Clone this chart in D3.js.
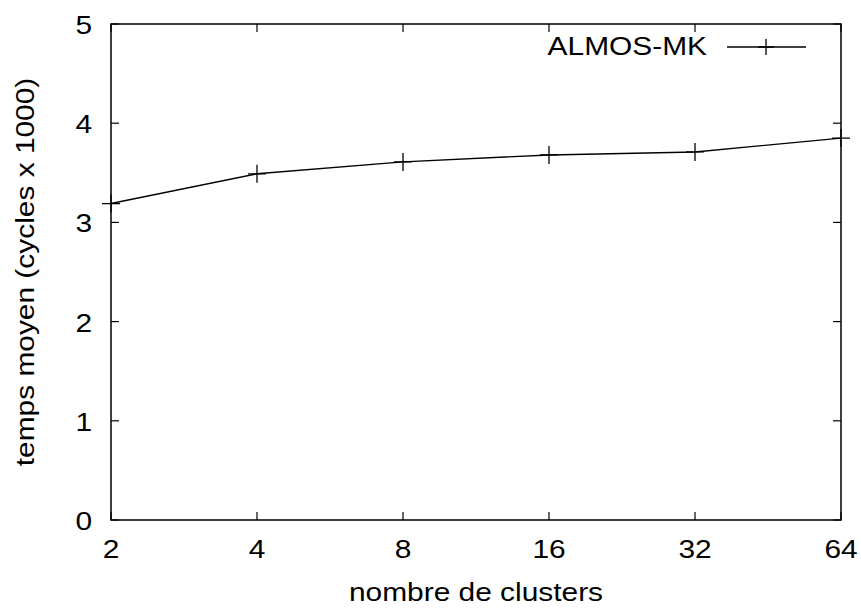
<!DOCTYPE html>
<html>
<head>
<meta charset="utf-8">
<script src="https://cdn.jsdelivr.net/npm/d3@7/dist/d3.min.js"></script>
<style>
  html, body { margin: 0; padding: 0; background: #fff; }
  svg text { font-family: "Liberation Sans", Arial, sans-serif; fill: #000; }
</style>
</head>
<body>
<svg id="chart" width="861" height="608"></svg>
<script>
// Number of clusters (log2 axis) and mean time in thousands of cycles
const clusters = [2, 4, 8, 16, 32, 64];
const almosMk = [3.19, 3.49, 3.61, 3.68, 3.71, 3.85];
const seriesName = "ALMOS-MK";
const yTicks = [0, 1, 2, 3, 4, 5];
const xLabel = "nombre de clusters";
const yLabel = "temps moyen (cycles x 1000)";

const W = 861, H = 608;
const m = { left: 111, right: 20, top: 24, bottom: 88 };
const fontSize = 26, stretch = 1.15;

const svg = d3.select("#chart");
svg.append("rect").attr("width", W).attr("height", H).attr("fill", "#fff");

const x = d3.scaleLog().base(2).domain([2, 64]).range([m.left, W - m.right]);
const y = d3.scaleLinear().domain([0, 5]).range([H - m.bottom, m.top]);

// wide text helper: horizontal stretch in the text's own frame
function label(g, txt, tx, ty, anchor, rot) {
  const t = g.append("g").attr("transform", `translate(${tx},${ty})` + (rot ? ` rotate(${rot})` : ""));
  t.append("text")
    .attr("transform", `scale(${stretch},1)`)
    .attr("text-anchor", anchor)
    .attr("font-size", fontSize)
    .text(txt);
  return t;
}

const tickLen = 8;
const x0 = x.range()[0], x1 = x.range()[1], y0 = y.range()[0], y1 = y.range()[1];

// ticks drawn inward, mirrored on opposite sides
const axes = svg.append("g").attr("stroke", "#000").attr("stroke-width", 1.2);
clusters.forEach(c => {
  axes.append("line").attr("x1", x(c)).attr("x2", x(c)).attr("y1", y0).attr("y2", y0 - tickLen);
  axes.append("line").attr("x1", x(c)).attr("x2", x(c)).attr("y1", y1).attr("y2", y1 + tickLen);
});
yTicks.forEach(v => {
  axes.append("line").attr("x1", x0).attr("x2", x0 + tickLen).attr("y1", y(v)).attr("y2", y(v));
  axes.append("line").attr("x1", x1).attr("x2", x1 - tickLen).attr("y1", y(v)).attr("y2", y(v));
});

// frame
svg.append("rect")
  .attr("x", x0).attr("y", y1).attr("width", x1 - x0).attr("height", y0 - y1)
  .attr("fill", "none").attr("stroke", "#000").attr("stroke-width", 1.5);

// tick labels
const labels = svg.append("g");
clusters.forEach(c => label(labels, String(c), x(c), y0 + 38, "middle"));
yTicks.forEach(v => label(labels, String(v), x0 - 19, y(v) + 10, "end"));

// axis titles
label(labels, xLabel, (x0 + x1) / 2, 601, "middle");
label(labels, yLabel, 34, (y0 + y1) / 2, "middle", -90);

// series line with plus markers
const line = d3.line().x((d, i) => x(clusters[i])).y(d => y(d));
svg.append("path").datum(almosMk)
  .attr("d", line).attr("fill", "none").attr("stroke", "#000").attr("stroke-width", 1.4);

function plus(g, cx, cy, r) {
  g.append("path")
    .attr("d", `M${cx - r},${cy}H${cx + r}M${cx},${cy - r}V${cy + r}`)
    .attr("stroke", "#000").attr("stroke-width", 1.3).attr("fill", "none");
}
const marks = svg.append("g");
almosMk.forEach((v, i) => plus(marks, x(clusters[i]), y(v), 9));

// legend
const leg = svg.append("g");
label(leg, seriesName, 707, 55, "end");
leg.append("line").attr("x1", 727).attr("x2", 806).attr("y1", 47).attr("y2", 47)
  .attr("stroke", "#000").attr("stroke-width", 1.3);
plus(leg, 766, 47, 8);
</script>
</body>
</html>
